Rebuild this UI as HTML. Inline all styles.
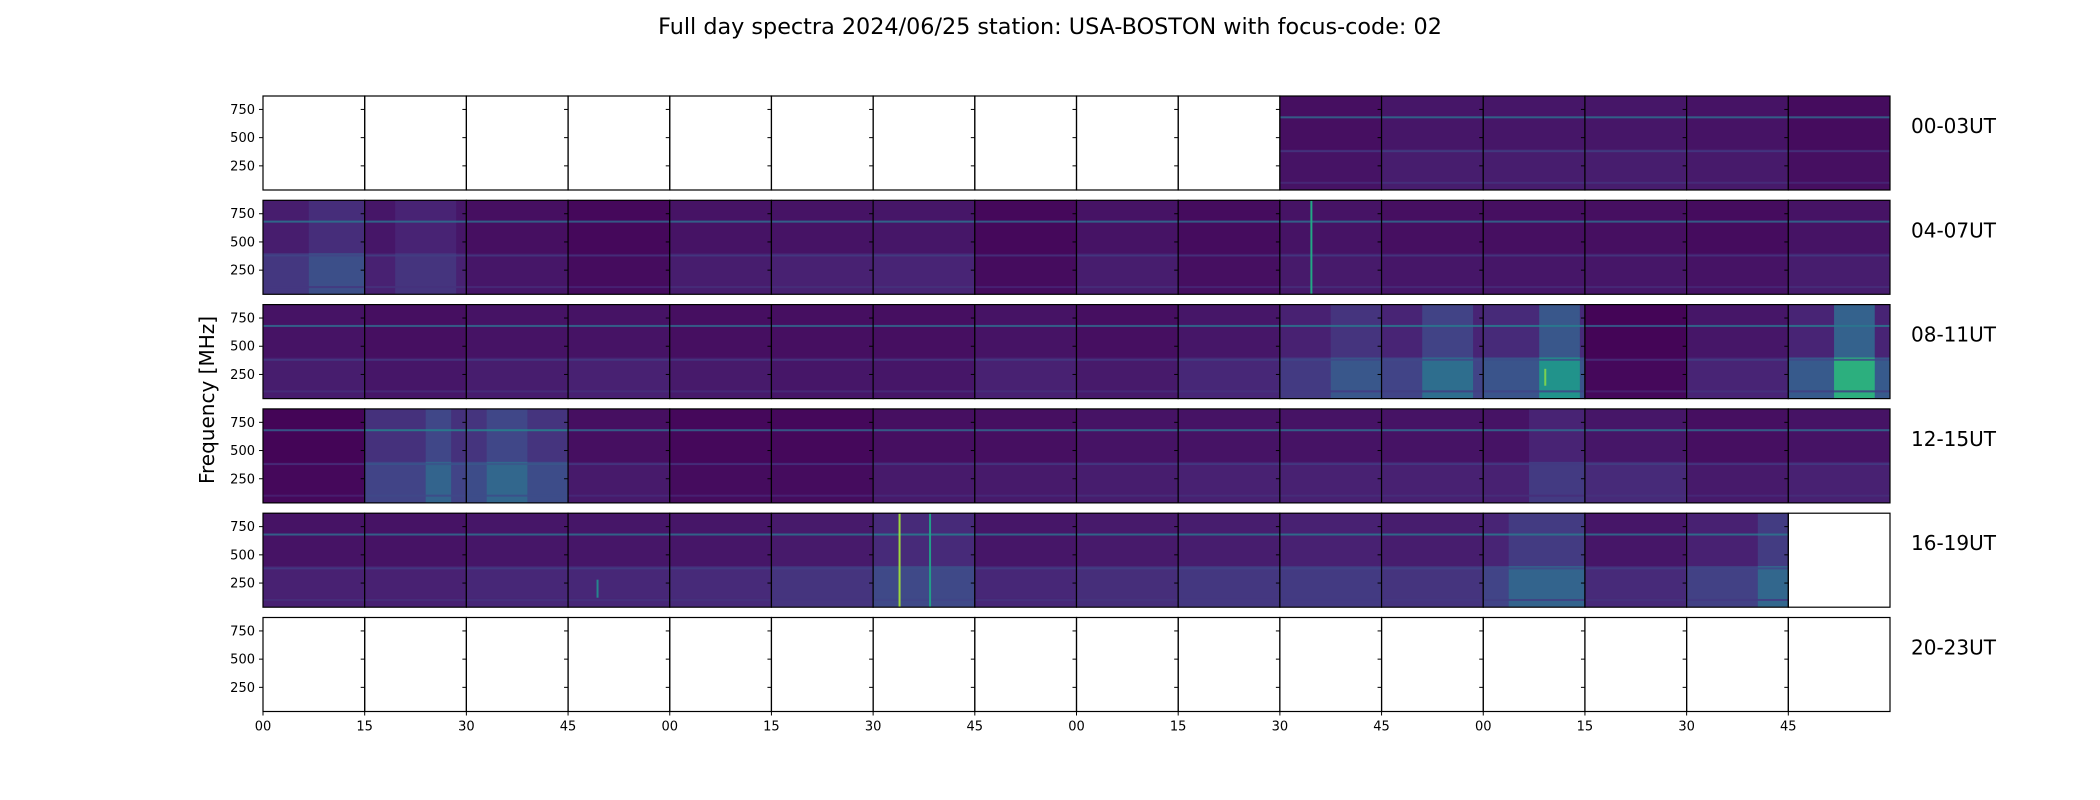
<!DOCTYPE html>
<html><head><meta charset="utf-8">
<style>
html,body{margin:0;padding:0;background:#fff;}
svg{display:block;font-family:"DejaVu Sans","Liberation Sans",sans-serif;}
</style></head>
<body>
<svg id="chart" width="2100" height="800" viewBox="0 0 2100 800">
<text x="1050" y="34" text-anchor="middle" font-size="22.3" fill="#000">Full day spectra 2024/06/25 station: USA-BOSTON with focus-code: 02</text>
<text transform="translate(214,400) rotate(-90)" text-anchor="middle" font-size="20" fill="#000">Frequency [MHz]</text>
</svg>
<script>
// ---- data ----
const rowLabels = ["00-03UT","04-07UT","08-11UT","12-15UT","16-19UT","20-23UT"];
const xTickLabels = ["00","15","30","45","00","15","30","45","00","15","30","45","00","15","30","45"];
const yTicks = [250, 500, 750];
const freqMin = 36, freqMax = 869;
// background level per panel (null = no data)
const panelBg = [
 null,null,null,null,null,null,null,null,null,null,0.04,0.06,0.06,0.06,0.05,0.03,
 0.08,0.06,0.04,0.02,0.05,0.05,0.06,0.02,0.05,0.03,0.05,0.04,0.04,0.04,0.03,0.05,
 0.05,0.04,0.05,0.05,0.04,0.04,0.04,0.05,0.04,0.06,0.09,0.10,0.12,0.01,0.06,0.10,
 0.01,0.14,0.15,0.04,0.02,0.02,0.04,0.04,0.05,0.05,0.05,0.05,0.05,0.06,0.04,0.05,
 0.05,0.05,0.06,0.06,0.06,0.07,0.12,0.06,0.07,0.08,0.09,0.08,0.10,0.06,0.09,null,
 null,null,null,null,null,null,null,null,null,null,null,null,null,null,null,null
];
// extra brightness below 400 MHz
const panelLow = [
 0,0,0,0,0,0,0,0,0,0,0.01,0.02,0.02,0.02,0.02,0.01,
 0.08,0.03,0.02,0.01,0.03,0.04,0.04,0.01,0.03,0.01,0.02,0.02,0.02,0.02,0.02,0.03,
 0.03,0.02,0.03,0.04,0.03,0.02,0.02,0.04,0.03,0.05,0.08,0.10,0.14,0.01,0.04,0.18,
 0.01,0.06,0.08,0.03,0.01,0.01,0.03,0.03,0.03,0.04,0.04,0.04,0.04,0.06,0.03,0.04,
 0.04,0.04,0.05,0.05,0.06,0.08,0.10,0.05,0.06,0.08,0.08,0.07,0.10,0.06,0.10,0,
 0,0,0,0,0,0,0,0,0,0,0,0,0,0,0,0
];
// brighter vertical region inside panel (fraction start, end, boost)
const hotFrom  = [0.45,0.50,0.40,0.55,0.30,0.45,0.60,0.45,0.25,0.20,0.70];
const hotTo    = [1.00,1.00,0.90,0.95,0.90,0.85,0.85,1.00,1.00,0.60,1.00];
const hotBoost = [0.08,0.10,0.16,0.25,0.06,0.35,0.12,0.08,0.12,0.10,0.14];
const hotPanel = [ 16,  42,  43,  44,  17,  47,  49,  60,  76,  50,  78];
// horizontal bands
const bandFreqs = [680, 380, 100];
const bandBoost = [0.30, 0.12, 0.08];
// narrow vertical bursts
const spikePanel = [26, 70, 70, 44, 67];
const spikePos   = [0.30, 0.25, 0.55, 0.60, 0.28];
const spikeLo    = [40, 40, 40, 150, 120];
const spikeHi    = [869, 869, 869, 300, 280];
const spikeLevel = [0.60, 0.85, 0.55, 0.80, 0.45];

// ---- layout ----
const svg = document.getElementById('chart');
const NS = 'http://www.w3.org/2000/svg';
const L = 263, R = 1890, NC = 16, colW = (R - L) / NC;
const top0 = 96, rowStep = 104.3, rowH = 94;
const fy = (f, r) => top0 + r * rowStep + rowH - (f - freqMin) / (freqMax - freqMin) * rowH;
const VIR = ["#440154","#482475","#414487","#355f8d","#2a788e","#21918c","#22a884","#44bf70","#7ad151","#bddf26","#fde725"];
function hex(h){return [1,3,5].map(i=>parseInt(h.substr(i,2),16));}
function viridis(t){t=Math.max(0,Math.min(1,t));const p=t*10,i=Math.min(9,Math.floor(p)),f=p-i;const a=hex(VIR[i]),b=hex(VIR[i+1]);return 'rgb('+a.map((v,k)=>Math.round(v+(b[k]-v)*f)).join(',')+')';}
function mk(tag, attrs, parent){const e=document.createElementNS(NS,tag);for(const k in attrs)e.setAttribute(k,attrs[k]);(parent||svg).appendChild(e);return e;}

for (let r = 0; r < 6; r++) {
  const g = mk('g', {});
  
  
  for (let c = 0; c < NC; c++) {
    const idx = r * NC + c, bg = panelBg[idx];
    const x0 = L + c * colW, yT = top0 + r * rowStep;
    const pg = mk('g', {}, g);
    
    
    if (bg !== null) {
      mk('rect', {x:x0, y:yT, width:colW, height:rowH, fill:viridis(bg)}, pg);
      const y400 = fy(400, r);
      mk('rect', {x:x0, y:y400, width:colW, height:yT + rowH - y400, fill:viridis(bg + panelLow[idx])}, pg);
      for (let h = 0; h < hotPanel.length; h++) {
        if (hotPanel[h] !== idx) continue;
        const hx = x0 + hotFrom[h] * colW, hw = (hotTo[h] - hotFrom[h]) * colW;
        mk('rect', {x:hx, y:yT, width:hw, height:rowH, fill:viridis(bg + hotBoost[h] * 0.6)}, pg);
        mk('rect', {x:hx, y:y400, width:hw, height:yT + rowH - y400, fill:viridis(bg + panelLow[idx] + hotBoost[h])}, pg);
      }
      for (let b = 0; b < bandFreqs.length; b++) {
        mk('rect', {x:x0, y:fy(bandFreqs[b], r) - 1, width:colW, height:2, fill:viridis(bg + bandBoost[b]), opacity:0.85}, pg);
      }
      for (let s = 0; s < spikePanel.length; s++) {
        if (spikePanel[s] !== idx) continue;
        mk('rect', {x:x0 + spikePos[s] * colW, y:fy(spikeHi[s], r), width:2, height:fy(spikeLo[s], r) - fy(spikeHi[s], r), fill:viridis(spikeLevel[s])}, pg);
      }
    }
    mk('rect', {x:x0, y:yT, width:colW, height:rowH, fill:'none', stroke:'#000', 'stroke-width':1.2}, pg);
    yTicks.forEach(v => mk('line', {x1:x0 - 4, x2:x0, y1:fy(v, r), y2:fy(v, r), stroke:'#000', 'stroke-width':1}, pg));
  }
  yTicks.forEach(v => {
    const t = mk('text', {x:L - 8, y:fy(v, r) + 4.5, 'text-anchor':'end', 'font-size':13, fill:'#000'}, g);
    t.textContent = v;
    
    
  });
  const lab = mk('text', {x:1911, y:top0 + r * rowStep + 37, 'font-size':20, fill:'#000'}, g);
  lab.textContent = rowLabels[r];
  
  
}
const xBase = top0 + 5 * rowStep + rowH;
xTickLabels.forEach((s, i) => {
  const x = L + i * colW;
  mk('line', {x1:x, x2:x, y1:xBase, y2:xBase + 4, stroke:'#000', 'stroke-width':1});
  const t = mk('text', {x:x, y:xBase + 19, 'text-anchor':'middle', 'font-size':13, fill:'#000'});
  t.textContent = s;
  
  
});
</script>
</body></html>
